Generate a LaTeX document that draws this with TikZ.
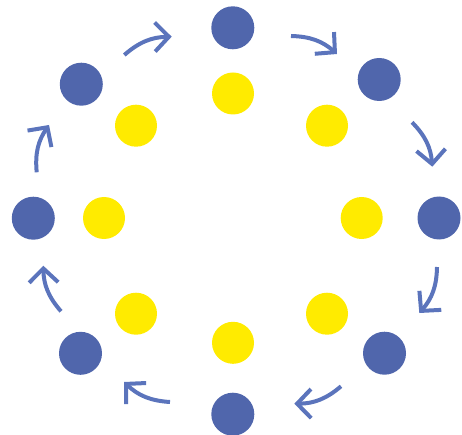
\documentclass[tikz,border=0pt]{standalone}
\usetikzlibrary{arrows.meta}
\definecolor{myblue}{RGB}{80,102,172}
\definecolor{myarrow}{RGB}{91,116,188}
\definecolor{myyellow}{RGB}{255,235,0}

\begin{document}
\begin{tikzpicture}[x=1pt, y=-1pt,
    outer/.style={circle, fill=myblue, minimum size=43pt, inner sep=0pt},
    inner/.style={circle, fill=myyellow, minimum size=42pt, inner sep=0pt},
    turn/.style={myarrow, line width=4pt, -{Straight Barb[length=14pt, width=29pt]}}]

    % --- Marco del dibujo ---
    \useasboundingbox (0,0) rectangle (462,435);

    % --- Anillo exterior (indice, x, y) ---
    \foreach \i/\px/\py in {
        1/232.8/27.8, 2/379.2/79.5, 3/439/218, 4/384.5/353.2,
        5/232.8/414.2, 6/80.5/353.3, 7/33.3/218.2, 8/81.3/84.2}{
        \node[outer] (b\i) at (\px,\py) {};
    }

    % --- Anillo interior ---
    \foreach \i/\px/\py in {
        1/233/93.5, 2/327/125.7, 3/361.7/218, 4/327/313.7,
        5/233/342.8, 6/136/313.7, 7/104/218, 8/136/125.7}{
        \node[inner] (y\i) at (\px,\py) {};
    }

    % --- Flechas en sentido horario (inicio -> punta) ---
    \foreach \i/\sx/\sy/\ex/\ey in {
        1/291/36/337/54,
        2/412/122.3/432.3/166.7,
        3/437/267/419.3/313,
        4/341/386.3/294.3/403.7,
        5/170/402/124/382,
        6/61/311.3/43.3/265.7,
        7/36.7/172.3/49/125,
        8/124.3/55/171.7/36.7}{
        \coordinate (s\i) at (\sx,\sy);
        \coordinate (e\i) at (\ex,\ey);
        \draw[turn] (s\i) to[bend left=20] (e\i);
    }

\end{tikzpicture}
\end{document}
